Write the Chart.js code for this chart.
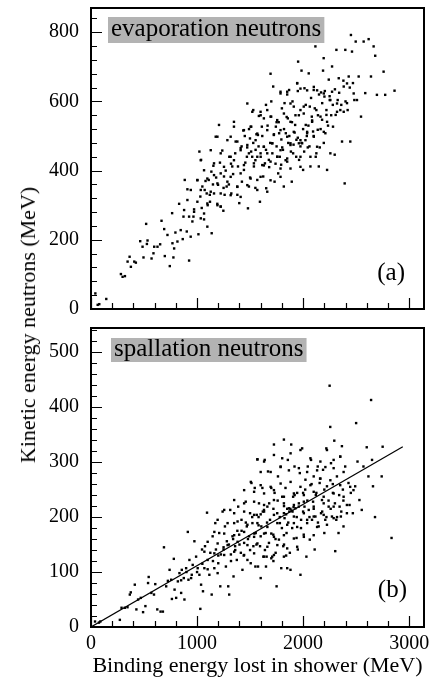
<!DOCTYPE html>
<html>
<head>
<meta charset="utf-8">
<script src="https://cdn.jsdelivr.net/npm/chart.js@4/dist/chart.umd.min.js"></script>
<style>
  html, body { margin: 0; padding: 0; background: #fff; }
  #wrap { position: relative; width: 430px; height: 681px; }
  #topChart { position: absolute; left: 0; top: 0; }
  #botChart { position: absolute; left: 0; top: 320px; }
  #ytitle {
    position: absolute; left: 28px; top: 325px;
    transform: translate(-50%, -50%) rotate(-90deg);
    white-space: nowrap; font: 22px "Liberation Serif", serif; color: #000;
  }
</style>
</head>
<body>
<div id="wrap">
  <canvas id="topChart" width="430" height="320"></canvas>
  <canvas id="botChart" width="430" height="361"></canvas>
  <div id="ytitle">Kinetic energy neutrons (MeV)</div>
</div>
<script>
// binding energy (MeV), kinetic energy (MeV)
const evaporationPoints = [
  [41,45],[63,12],[78,14],[144,29],[282,101],[298,93],[320,95],[345,137],[364,151],[376,122],
  [408,137],[423,134],[464,196],[486,180],[527,188],[520,246],[495,149],[533,198],[571,146],[589,161],
  [596,180],[627,180],[652,187],[665,255],[690,231],[696,153],[721,214],[743,124],[768,190],[777,149],
  [784,175],[796,221],[815,195],[765,277],[831,304],[846,228],[865,202],[872,267],[884,373],[903,224],
  [909,346],[925,140],[940,209],[956,253],[966,267],[972,288],[1003,373],[1013,216],[1022,455],[1031,325],
  [1038,431],[1044,292],[1050,354],[1066,259],[1072,344],[1091,334],[1097,238],[1110,373],[1122,310],[1135,397],
  [1138,219],[1154,414],[1160,334],[1176,498],[1191,304],[1198,359],[1207,532],[1216,423],[1223,296],[1238,458],
  [1248,284],[1254,383],[1260,330],[1279,354],[1304,440],[1317,498],[1323,334],[1332,412],[1348,527],[1364,484],
  [1379,354],[1386,412],[1398,306],[1411,465],[1423,368],[1436,516],[1442,402],[1455,423],[1473,467],[1480,291],
  [1489,354],[1499,493],[1511,527],[1520,440],[1530,575],[1536,412],[1552,460],[1568,373],[1574,503],[1583,558],
  [1593,310],[1599,450],[1611,527],[1624,383],[1630,469],[1640,421],[1652,349],[1662,575],[1677,431],[1693,680],
  [1699,556],[1709,479],[1718,643],[1731,368],[1743,527],[1756,440],[1765,392],[1774,508],[1787,628],[1793,417],
  [1803,467],[1818,354],[1825,595],[1837,508],[1850,426],[1856,551],[1868,633],[1881,479],[1893,368],[1906,450],
  [1912,585],[1925,532],[1937,489],[1944,653],[1953,715],[1962,431],[1975,575],[1985,689],[1991,479],[2000,402],
  [2006,585],[2013,638],[2025,532],[2038,508],[2044,467],[2053,681],[2063,585],[2069,412],[2082,556],[2094,513],
  [2100,633],[2116,759],[2119,440],[2125,575],[2138,518],[2148,412],[2157,467],[2169,626],[2179,547],[2188,689],
  [2194,725],[2201,614],[2210,508],[2220,561],[2226,402],[2242,663],[2251,604],[2257,450],[2273,701],[2282,527],
  [2298,446],[2307,561],[2314,749],[2326,604],[2336,667],[2351,575],[2367,484],[2383,643],[2392,363],[2398,749],
  [2414,595],[2430,672],[2445,484],[2451,792],[2461,744],[2470,653],[2483,604],[2496,773],[2508,604],[2524,672],
  [2546,556],[2571,773],[2586,624],[2618,780],[2640,672],[2665,759],[2680,732],[2696,619],[2759,686],[2774,619],
  [2862,631],
  [1420,470],[1450,500],[1470,440],[1490,520],[1510,455],[1530,480],[1550,430],[1560,505],[1580,470],[1600,440],
  [1615,500],[1630,415],[1650,460],[1665,530],[1680,410],[1690,480],[1710,450],[1725,505],[1740,420],[1750,470],
  [1770,540],[1780,440],[1795,490],[1810,460],[1820,520],[1835,430],[1845,555],[1860,480],[1870,500],[1885,455],
  [1895,540],[1910,475],[1920,510],[1935,440],[1950,495],[1960,560],[1975,470],[1985,480],[2000,520],[2010,455],
  [2025,590],[2035,500],[2050,530],[2060,470],[2075,610],[2085,545],[2100,500],[2110,580],[2125,450],[2140,560],
  [2150,620],[2165,520],[2180,595],[2195,480],[2205,630],[2220,575],[2235,530],[2250,615],[2265,560],[2280,590],
  [2300,635],[2320,570],[2340,625],[2360,590],[2380,660],[2400,600],[2420,575],[2440,640],[1300,360],[1320,420],
  [1340,390],[1360,450],[1380,330],[1250,350],[1270,400],[1180,380],[1150,360],[1120,330],[1100,300],[1080,370],
  [1500,380],[1550,350],[1600,560],[1650,590],[1700,600],[1750,540],[1800,580],[1850,620],[1900,600],[1950,630],
  [1787,623],[1850,628],[1881,594],[1944,652],[1975,637],[2038,632],[2101,642],[2132,632],[2195,623],[2257,604],
  [2273,628],[2320,594],[2383,570],[2414,652],[2477,623],[1474,594],[1521,570],[1599,570],[1630,551],[1693,556],
  [1756,546],[1819,565],[1881,541],[1928,560],[2006,565],[2085,541],[2164,556],[2226,541],[1348,541],[1442,517],
  [1505,527],[1568,507],[1662,517],[1724,503],[1787,517],[1850,498],[1912,512],[1975,488],[2038,512],[2101,498],
  [2195,512],[1192,498],[1286,488],[1380,484],[1474,474],[1552,488],[1630,469],[1709,479],[1787,459],[1881,474],
  [1960,479],[2022,488],[2132,469],[1129,459],[1223,450],[1317,440],[1411,459],[1489,450],[1568,440],[1662,450],
  [1756,440],[1850,435],[1975,440],[2069,440],[1035,430],[1160,421],[1254,411],[1348,430],[1442,416],[1536,421],
  [1615,416],[1693,426],[1787,406],[1881,406],[1975,411],[1066,401],[1160,387],[1223,392],[1317,382],[1411,392],
  [1505,377],[1599,382],[1693,372],[1787,382],[1003,372],[1097,377],[1192,363],[1286,368],[1380,353],[1474,358],
  [1568,344],[1662,339],[941,344],[1035,344],[1129,339],[1223,334],[1317,329],[1411,324],[909,315],[1003,310],
  [1097,305],[1192,300],[878,286],[972,281],[1066,276],[1223,296],[925,267],[1035,262]
];

const spallationPoints = [
  [38,10],[75,8],[88,10],[272,13],[288,35],[319,35],[344,36],[366,59],[375,63],[413,77],
  [428,32],[444,50],[469,53],[491,27],[513,38],[538,80],[544,91],[569,62],[594,59],[606,78],
  [625,32],[656,28],[678,28],[688,145],[709,74],[725,84],[741,104],[756,86],[763,51],[781,124],
  [788,68],[803,53],[819,83],[834,98],[850,62],[856,104],[875,89],[881,50],[897,107],[913,173],
  [919,86],[928,122],[944,89],[959,113],[975,156],[991,128],[1006,107],[1022,95],[1031,33],[1038,77],
  [1047,141],[1056,65],[1069,107],[1075,147],[1094,208],[1100,122],[1116,95],[1125,135],[1138,59],[1147,165],
  [1163,107],[1172,189],[1178,141],[1194,98],[1200,116],[1209,171],[1219,74],[1225,132],[1241,210],[1250,141],
  [1263,183],[1272,110],[1281,156],[1294,74],[1303,59],[1313,213],[1319,132],[1334,165],[1344,92],[1350,189],
  [1359,147],[1375,122],[1388,219],[1397,168],[1413,135],[1419,195],[1428,104],[1444,153],[1459,228],[1469,183],
  [1475,122],[1491,165],[1500,207],[1506,116],[1513,262],[1522,189],[1531,147],[1544,253],[1553,171],[1563,204],
  [1569,305],[1575,110],[1584,225],[1594,147],[1600,89],[1606,183],[1616,253],[1625,128],[1631,213],[1638,304],
  [1647,171],[1656,128],[1663,219],[1669,283],[1678,153],[1688,195],[1700,253],[1709,128],[1719,168],[1725,332],
  [1731,244],[1741,135],[1750,74],[1756,207],[1763,274],[1772,159],[1781,189],[1788,292],[1794,107],[1803,237],
  [1813,147],[1819,341],[1825,198],[1834,253],[1844,171],[1850,107],[1856,304],[1866,216],[1875,135],[1881,104],
  [1888,332],[1897,180],[1906,237],[1913,189],[1919,292],[1928,216],[1938,162],[1944,244],[1950,141],[1959,219],
  [1969,280],[1975,95],[1981,195],[1991,325],[2000,244],[2006,168],[2013,219],[2022,268],[2031,128],[2038,195],
  [2044,292],[2053,213],[2063,159],[2075,304],[2084,195],[2094,228],[2100,274],[2109,141],[2116,201],[2125,244],
  [2138,292],[2147,183],[2156,262],[2169,207],[2178,231],[2188,286],[2200,171],[2209,195],[2219,325],[2225,256],
  [2241,219],[2250,439],[2256,364],[2263,298],[2272,201],[2281,244],[2294,339],[2303,138],[2313,195],[2319,274],
  [2334,171],[2344,219],[2350,310],[2356,201],[2366,329],[2375,250],[2381,183],[2397,292],[2413,207],[2428,262],
  [2438,222],[2450,244],[2469,207],[2491,256],[2500,371],[2513,301],[2531,231],[2553,213],[2569,292],[2600,327],
  [2616,274],[2641,413],[2650,304],[2659,256],[2678,200],[2741,274],[2750,328],[2834,162],
  [1400,150],[1420,175],[1440,130],[1460,190],[1480,160],[1500,140],[1520,200],[1540,170],[1560,150],[1580,185],
  [1600,165],[1620,210],[1640,140],[1660,190],[1680,225],[1700,170],[1720,215],[1740,160],[1760,230],[1780,200],
  [1800,180],[1820,220],[1840,205],[1860,190],[1880,215],[1900,210],[1920,240],[1940,200],[1960,225],[1980,180],
  [2000,210],[2020,250],[2040,230],[2060,200],[2080,260],[2100,215],[2120,240],[2140,190],[2160,270],[2180,210],
  [2200,250],[2220,200],[2240,230],[2260,215],[2280,260],[2300,225],[2320,200],[2340,240],[2360,210],[2380,230],
  [1300,150],[1320,120],[1340,160],[1360,140],[1380,175],[1250,145],[1200,130],[1150,120],[1100,105],[1050,115],
  [1000,100],[950,95],[900,100],[850,85],[1850,215],[1870,210],[1890,212],[1910,218],[1580,200],[1600,205],
  [1820,150],[1840,130],[1700,125],[1720,120],[1650,110],[1550,110],
  [1569,305],[1632,301],[1725,313],[1803,307],[1882,316],[1975,322],[2069,307],[2163,301],[2225,322],[2288,304],
  [2350,310],[1600,282],[1694,282],[1788,291],[1866,285],[1960,289],[2038,282],[2132,285],[2210,291],[2288,289],
  [2382,282],[1507,264],[1600,258],[1694,255],[1788,261],[1882,264],[1975,255],[2069,258],[2163,270],[2257,267],
  [2350,258],[2444,255],[1444,249],[1538,246],[1632,243],[1725,249],[1819,237],[1913,243],[2007,240],[2100,246],
  [2194,237],[2288,243],[2382,237],[2475,249],[1350,231],[1444,225],[1538,228],[1632,222],[1725,231],[1819,225],
  [1913,222],[2007,228],[2100,219],[2194,225],[2288,219],[2413,222],[1256,213],[1350,207],[1444,210],[1538,204],
  [1632,210],[1725,204],[1819,207],[1913,201],[2007,207],[2100,201],[2194,204],[2288,198],[1194,195],[1288,189],
  [1382,192],[1475,186],[1569,189],[1663,182],[1757,189],[1850,186],[1944,182],[2038,189],[2132,182],[2225,186],
  [1163,173],[1256,170],[1350,167],[1444,173],[1538,164],[1632,170],[1725,164],[1819,167],[1913,161],[2007,164],
  [2100,167],[1100,155],[1194,152],[1288,149],[1382,155],[1475,149],[1569,152],[1663,146],[1757,149],[1850,143],
  [1944,146],[1069,137],[1163,134],[1256,131],[1350,137],[1444,131],[1538,134],[1632,128],[1725,131],[1819,128]
];

const fitLine = [[0, 0], [2940, 328]];

const xTicks = [0, 1000, 2000, 3000];
const yTicksTop = [0, 200, 400, 600, 800];
const yTicksBottom = [0, 100, 200, 300, 400, 500];

const serif = 'Liberation Serif';

// frame, inward ticks (ROOT style) and the panel labels
const frameTicks = {
  id: 'frameTicks',
  afterDatasetsDraw(chart, args, opts) {
    const { ctx, chartArea: a } = chart;
    const x = chart.scales.x, y = chart.scales.y;
    ctx.save();
    ctx.strokeStyle = '#000';
    ctx.lineWidth = 1.2;
    ctx.beginPath();
    for (let v = 0; v <= x.max; v += opts.xMinor) {
      const px = Math.round(x.getPixelForValue(v)) + 0.5;
      const len = v % opts.xMajor === 0 ? 11 : 6;
      ctx.moveTo(px, a.bottom);
      ctx.lineTo(px, a.bottom - len);
    }
    for (let v = 0; v <= y.max; v += opts.yMinor) {
      const py = Math.round(y.getPixelForValue(v)) + 0.5;
      const len = v % opts.yMajor === 0 ? 11 : 6;
      ctx.moveTo(a.left, py);
      ctx.lineTo(a.left + len, py);
    }
    ctx.stroke();

    ctx.lineWidth = 2;
    ctx.strokeRect(a.left, a.top, a.right - a.left, a.bottom - a.top);

    // grey name box
    ctx.font = opts.nameSize + 'px "' + serif + '"';
    const w = ctx.measureText(opts.name).width;
    ctx.fillStyle = '#b3b3b3';
    ctx.fillRect(a.left + opts.boxDx, a.top + opts.boxDy, w + 6, opts.boxH);
    ctx.fillStyle = '#000';
    ctx.textBaseline = 'alphabetic';
    ctx.textAlign = 'left';
    ctx.fillText(opts.name, a.left + opts.boxDx + 3, a.top + opts.boxDy + opts.textDy);

    // (a) / (b)
    ctx.font = '25px "' + serif + '"';
    ctx.textAlign = 'right';
    ctx.fillText(opts.tag, a.right - opts.tagDx, a.bottom - opts.tagDy);
    ctx.restore();
  }
};

const tickFont = { family: serif, size: 20 };

function yScale(max, ticks) {
  return {
    type: 'linear',
    min: 0,
    max: max,
    afterFit: (s) => { s.width = 91; s.paddingTop = 0; s.paddingBottom = 0; },
    afterBuildTicks: (s) => { s.ticks = ticks.map(v => ({ value: v })); },
    grid: { display: false, drawTicks: false },
    border: { display: false },
    ticks: { color: '#000', padding: 12, font: tickFont, callback: (v) => String(v) }
  };
}

const pointStyle = {
  backgroundColor: '#000',
  borderWidth: 0,
  pointStyle: 'rect',
  pointRadius: 1.7
};

new Chart(document.getElementById('topChart'), {
  type: 'scatter',
  data: {
    datasets: [
      Object.assign({ data: evaporationPoints.map(p => ({ x: p[0], y: p[1] })) }, pointStyle)
    ]
  },
  options: {
    responsive: false,
    animation: false,
    layout: { padding: { top: 8, right: 6, bottom: 11, left: 0 } },
    plugins: {
      legend: { display: false },
      tooltip: { enabled: false },
      frameTicks: {
        xMinor: 200, xMajor: 1000, yMinor: 40, yMajor: 200,
        name: 'evaporation neutrons', nameSize: 25,
        boxDx: 17, boxDy: 9, boxH: 26, textDy: 19,
        tag: '(a)', tagDx: 19, tagDy: 29
      }
    },
    scales: {
      x: { type: 'linear', min: 0, max: 3140, display: false },
      y: yScale(870, yTicksTop)
    }
  },
  plugins: [frameTicks]
});

new Chart(document.getElementById('botChart'), {
  type: 'scatter',
  data: {
    datasets: [
      Object.assign({ data: spallationPoints.map(p => ({ x: p[0], y: p[1] })) }, pointStyle),
      {
        data: fitLine.map(p => ({ x: p[0], y: p[1] })),
        showLine: true,
        borderColor: '#000',
        borderWidth: 1.2,
        pointRadius: 0,
        fill: false
      }
    ]
  },
  options: {
    responsive: false,
    animation: false,
    layout: { padding: { top: 8, right: 6, bottom: 0, left: 0 } },
    plugins: {
      legend: { display: false },
      tooltip: { enabled: false },
      frameTicks: {
        xMinor: 200, xMajor: 1000, yMinor: 20, yMajor: 100,
        name: 'spallation neutrons', nameSize: 25,
        boxDx: 20, boxDy: 10, boxH: 24, textDy: 18,
        tag: '(b)', tagDx: 17, tagDy: 30
      }
    },
    scales: {
      x: {
        type: 'linear',
        min: 0,
        max: 3140,
        afterFit: (s) => { s.height = 54; s.paddingLeft = 0; s.paddingRight = 0; },
        afterBuildTicks: (s) => { s.ticks = xTicks.map(v => ({ value: v })); },
        grid: { display: false, drawTicks: false },
        border: { display: false },
        ticks: { color: '#000', padding: 5, autoSkip: false, maxRotation: 0, font: tickFont, callback: (v) => String(v) },
        title: {
          display: true,
          text: 'Binding energy lost in shower (MeV)',
          color: '#000',
          font: { family: serif, size: 22 },
          padding: { top: 0, bottom: 2 }
        }
      },
      y: yScale(544, yTicksBottom)
    }
  },
  plugins: [frameTicks]
});
</script>
</body>
</html>
